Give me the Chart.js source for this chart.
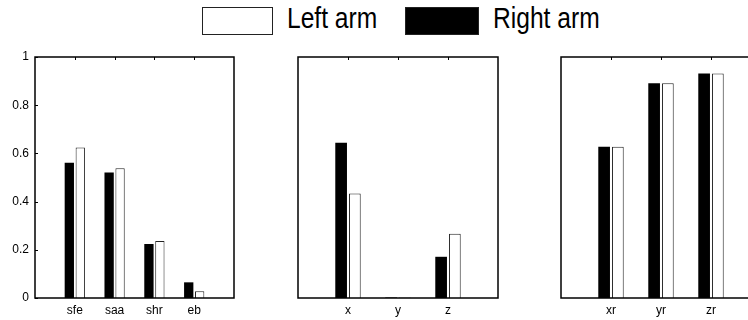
<!DOCTYPE html>
<html>
<head>
<meta charset="utf-8">
<script src="https://cdn.jsdelivr.net/npm/chart.js@4"></script>
<style>
  html, body { margin: 0; padding: 0; background: #fff; width: 748px; height: 320px; overflow: hidden; }
  body { position: relative; }
  canvas { position: absolute; top: 0; }
  .key { position: absolute; top: 7px; height: 28px; box-sizing: border-box; border: 1px solid #222; }
  .txt { position: absolute; top: 3px; line-height: 30px; font-size: 30px; color: #000;
         font-family: "Liberation Sans", Arial, sans-serif; white-space: nowrap;
         transform: scaleX(0.82); transform-origin: left top; }
</style>
</head>
<body>
<div class="key" style="left:202px;width:71px;background:#fff"></div>
<div class="txt" style="left:287px">Left arm</div>
<div class="key" style="left:405px;width:74px;background:#000"></div>
<div class="txt" style="left:493px">Right arm</div>

<canvas id="c1" width="250" height="320" style="left:0px"></canvas>
<canvas id="c2" width="220" height="320" style="left:290px"></canvas>
<canvas id="c3" width="220" height="320" style="left:553px"></canvas>

<script>
  // shoulder / elbow panel
  const jointLabels = ['sfe', 'saa', 'shr', 'eb'];
  const jointRight = [0.561, 0.521, 0.224, 0.065];
  const jointLeft = [0.624, 0.538, 0.236, 0.028];

  // position panel
  const posLabels = ['x', 'y', 'z'];
  const posRight = [0.644, 0.002, 0.171];
  const posLeft = [0.434, 0.002, 0.267];

  // rotation panel
  const rotLabels = ['xr', 'yr', 'zr'];
  const rotRight = [0.628, 0.891, 0.932];
  const rotLeft = [0.628, 0.891, 0.932];

  const yTicks = [0, 0.2, 0.4, 0.6, 0.8, 1];

  Chart.defaults.color = '#000';
  Chart.defaults.font.family = '"Liberation Sans", Arial, sans-serif';
  Chart.defaults.font.size = 12;

  // frame round the plot area plus the little inward ticks
  const boxPlugin = {
    id: 'box',
    afterDatasetsDraw(chart, args, opts) {
      const { ctx, chartArea: a, scales } = chart;
      ctx.save();
      ctx.strokeStyle = '#000';
      ctx.lineWidth = 1;
      const xs = scales.x;
      xs.ticks.forEach((t, i) => {
        if (!t.label) return;
        const px = Math.round(xs.getPixelForTick(i)) + 0.5;
        ctx.beginPath();
        ctx.moveTo(px, a.top);
        ctx.lineTo(px, a.top + 3);
        ctx.stroke();
      });
      if (opts.yticks) {
        const ys = scales.y;
        ys.ticks.forEach((t, i) => {
          const py = Math.round(ys.getPixelForTick(i)) + 0.5;
          ctx.beginPath();
          ctx.moveTo(a.left, py);
          ctx.lineTo(a.left + 3, py);
          ctx.stroke();
        });
      }
      ctx.lineWidth = 1.5;
      ctx.strokeRect(a.left, a.top, a.right - a.left, a.bottom - a.top);
      ctx.restore();
    }
  };

  function pad(arr, fill) {
    return [fill, ...arr, fill];
  }

  function makeChart(id, labels, right, left, showY, padding) {
    return new Chart(document.getElementById(id), {
      type: 'bar',
      data: {
        labels: pad(labels, ''),
        datasets: [
          {
            label: 'Right arm',
            data: pad(right, null),
            backgroundColor: '#000',
            borderColor: '#000',
            borderWidth: 0
          },
          {
            label: 'Left arm',
            data: pad(left, null),
            backgroundColor: '#fff',
            borderColor: '#222',
            borderWidth: 1
          }
        ]
      },
      plugins: [boxPlugin],
      options: {
        responsive: false,
        animation: false,
        categoryPercentage: 0.55,
        barPercentage: 0.85,
        layout: { padding: padding },
        plugins: {
          legend: { display: false },
          tooltip: { enabled: false },
          box: { yticks: showY }
        },
        scales: {
          x: {
            offset: false,
            grid: { display: false, drawTicks: false },
            border: { display: false },
            ticks: { autoSkip: false, maxRotation: 0, padding: 5 },
            afterFit: (s) => { s.height = 22; }
          },
          y: {
            display: showY,
            min: 0,
            max: 1,
            grid: { display: false, drawTicks: false },
            border: { display: false },
            ticks: { padding: 6, callback: (v) => String(+v.toFixed(1)) },
            afterBuildTicks: (s) => { s.ticks = yTicks.map(v => ({ value: v })); },
            afterFit: (s) => { s.width = showY ? 35 : 0; }
          }
        }
      }
    });
  }

  const chart1 = makeChart('c1', jointLabels, jointRight, jointLeft, true, { top: 57, right: 16, left: 0, bottom: 0 });
  const chart2 = makeChart('c2', posLabels, posRight, posLeft, false, { top: 57, right: 12, left: 8, bottom: 0 });
  const chart3 = makeChart('c3', rotLabels, rotRight, rotLeft, false, { top: 57, right: 12, left: 8, bottom: 0 });
</script>
</body>
</html>
